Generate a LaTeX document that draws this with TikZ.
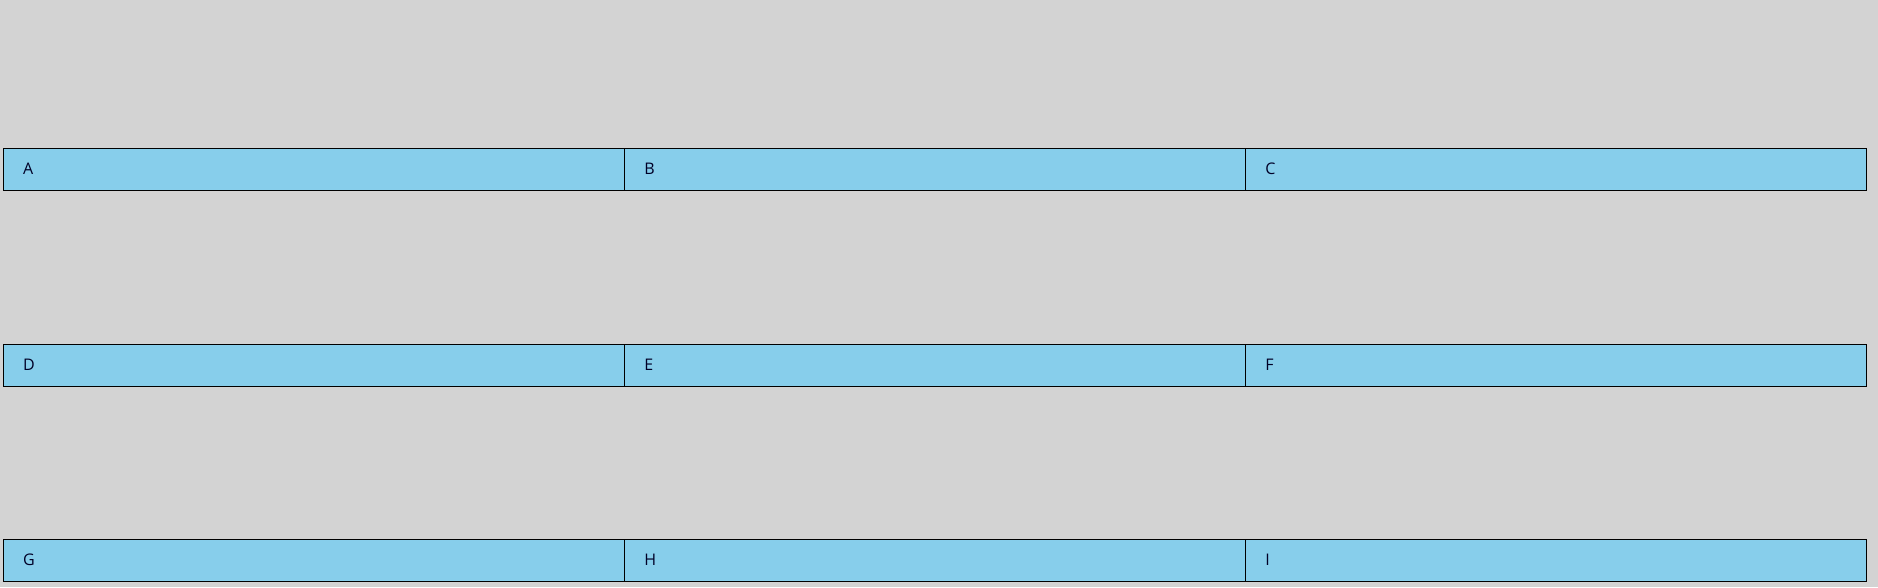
\documentclass[tikz,border=0pt]{standalone}
\usepackage{fontspec}
\setmainfont{Open Sans}

\definecolor{paneback}{RGB}{211,211,211}
\definecolor{panefill}{RGB}{135,206,235}

\tikzset{every picture/.style={line width=1.5pt}}
\tikzset{pane/.style={draw=black, fill=panefill, anchor=north west, minimum width=621pt, minimum height=42pt, inner xsep=20pt, inner ysep=0pt, text width=581pt, align=left, text=black!85!blue, font=\fontsize{16}{19}\selectfont}}

\begin{document}
\begin{tikzpicture}[x=1pt,y=1pt,yscale=-1,xscale=1]
%Background
\fill [paneback] (0,0) rectangle (1878,587) ;
\useasboundingbox (0,0) rectangle (1878,587) ;

%Row 1
\node [pane] (A) at (2.5,147.5) {A};
\node [pane] (B) at (623.5,147.5) {B};
\node [pane] (C) at (1244.5,147.5) {C};

%Row 2
\node [pane] (D) at (2.5,343.5) {D};
\node [pane] (E) at (623.5,343.5) {E};
\node [pane] (F) at (1244.5,343.5) {F};

%Row 3
\node [pane] (G) at (2.5,538.5) {G};
\node [pane] (H) at (623.5,538.5) {H};
\node [pane] (I) at (1244.5,538.5) {I};

\end{tikzpicture}
\end{document}
